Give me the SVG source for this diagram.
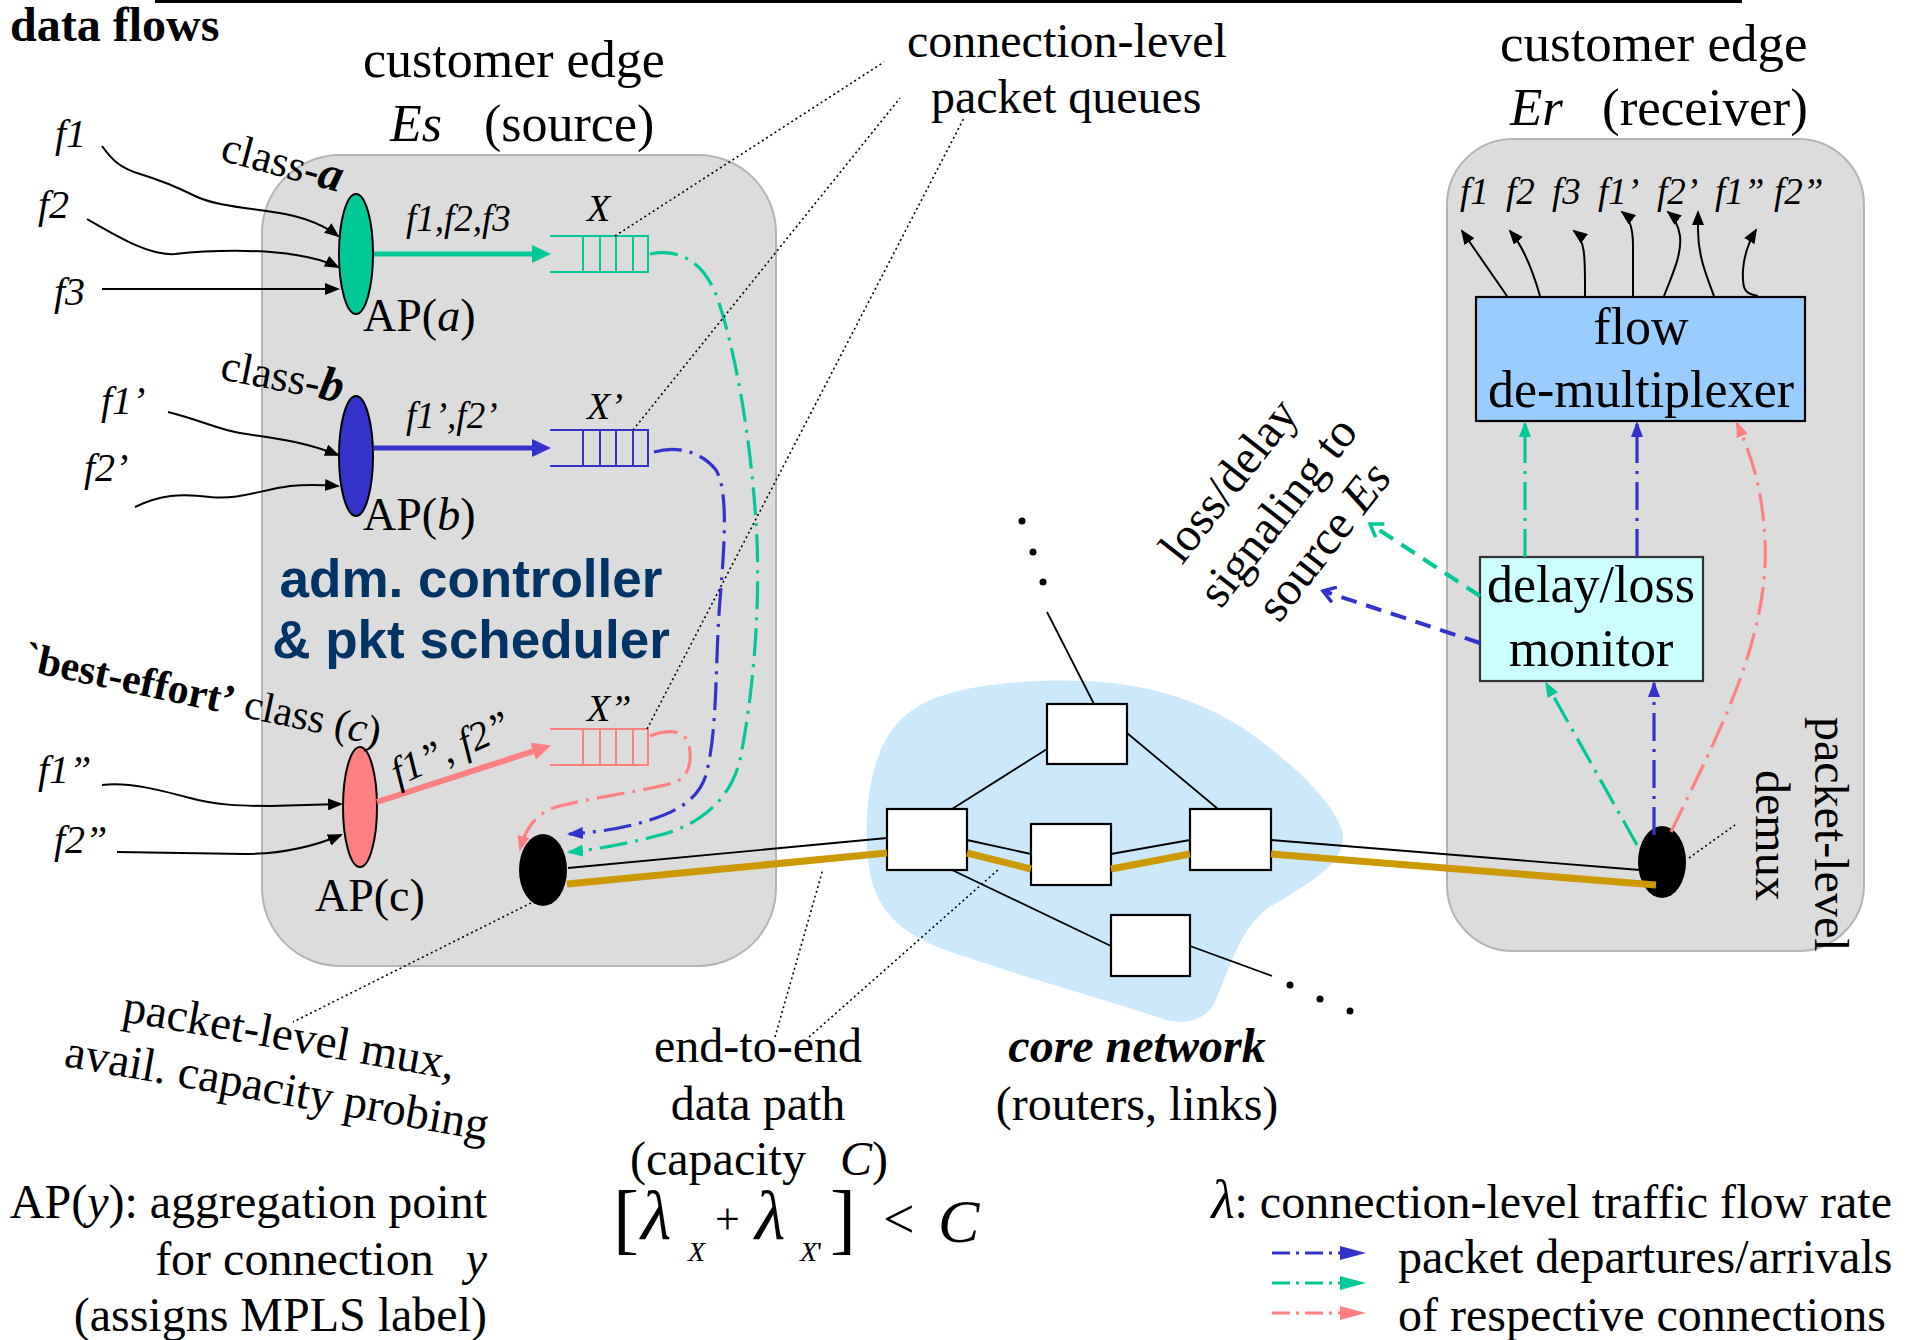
<svg xmlns="http://www.w3.org/2000/svg" width="1910" height="1340" viewBox="0 0 1910 1340">
<defs>
<style>
text { font-family: "Liberation Serif", "Times New Roman", serif; fill: #000; }
.it { font-style: italic; }
.bd { font-weight: bold; }
.sans { font-family: "Liberation Sans", Arial, sans-serif; }
.edge { fill: #dcdcdc; stroke: #b4b4b4; stroke-width: 2; }
.router { fill: #fff; stroke: #000; stroke-width: 2.2; }
.link { stroke: #000; stroke-width: 1.8; fill: none; }
.gold { stroke: #cc9900; stroke-width: 7; fill: none; }
.flow { stroke: #000; stroke-width: 2; fill: none; marker-end: url(#mk-black); }
.dd { fill: none; stroke-width: 3.2; stroke-dasharray: 28 8 3 8; }
.dsh { fill: none; stroke-width: 4; stroke-dasharray: 16 10; }
.cg { stroke: #00c896; }
.cb { stroke: #3333cc; }
.cp { stroke: #ff8080; }
.lead { stroke: #000; stroke-width: 1.6; stroke-dasharray: 2 3; fill: none; }
.q { fill: none; stroke-width: 2; }
</style>
<marker id="mk-black" markerWidth="15" markerHeight="12" refX="13" refY="6" orient="auto" markerUnits="userSpaceOnUse"><path d="M0,0 L15,6 L0,12 z" fill="#000"/></marker>
<marker id="mk-gbig" markerWidth="19" markerHeight="18" refX="1" refY="9" orient="auto" markerUnits="userSpaceOnUse"><path d="M0,0 L19,9 L0,18 z" fill="#00c896"/></marker>
<marker id="mk-bbig" markerWidth="19" markerHeight="18" refX="1" refY="9" orient="auto" markerUnits="userSpaceOnUse"><path d="M0,0 L19,9 L0,18 z" fill="#3333cc"/></marker>
<marker id="mk-pbig" markerWidth="19" markerHeight="18" refX="1" refY="9" orient="auto" markerUnits="userSpaceOnUse"><path d="M0,0 L19,9 L0,18 z" fill="#ff8080"/></marker>
<marker id="mk-g" markerWidth="16" markerHeight="12" refX="14" refY="6" orient="auto" markerUnits="userSpaceOnUse"><path d="M0,0 L16,6 L0,12 z" fill="#00c896"/></marker>
<marker id="mk-b" markerWidth="16" markerHeight="12" refX="14" refY="6" orient="auto" markerUnits="userSpaceOnUse"><path d="M0,0 L16,6 L0,12 z" fill="#3333cc"/></marker>
<marker id="mk-p" markerWidth="16" markerHeight="12" refX="14" refY="6" orient="auto" markerUnits="userSpaceOnUse"><path d="M0,0 L16,6 L0,12 z" fill="#ff8080"/></marker>
<marker id="mk-gopen" markerWidth="16" markerHeight="18" refX="13" refY="9" orient="auto" markerUnits="userSpaceOnUse"><path d="M1,1 L13,9 L1,17" fill="none" stroke="#00c896" stroke-width="3.5"/></marker>
<marker id="mk-bopen" markerWidth="16" markerHeight="18" refX="13" refY="9" orient="auto" markerUnits="userSpaceOnUse"><path d="M1,1 L13,9 L1,17" fill="none" stroke="#3333cc" stroke-width="3.5"/></marker>
<marker id="mk-gleg" markerWidth="26" markerHeight="14" refX="0" refY="7" orient="auto" markerUnits="userSpaceOnUse"><path d="M0,0 L26,7 L0,14 z" fill="#00c896"/></marker>
<marker id="mk-bleg" markerWidth="26" markerHeight="14" refX="0" refY="7" orient="auto" markerUnits="userSpaceOnUse"><path d="M0,0 L26,7 L0,14 z" fill="#3333cc"/></marker>
<marker id="mk-pleg" markerWidth="26" markerHeight="14" refX="0" refY="7" orient="auto" markerUnits="userSpaceOnUse"><path d="M0,0 L26,7 L0,14 z" fill="#ff8080"/></marker>
</defs>

<rect x="0" y="0" width="1910" height="1340" fill="#fff"/>
<rect x="155" y="0" width="1587" height="3" fill="#000"/>

<!-- containers -->
<g id="edge-source"><rect class="edge" x="262" y="155" width="514" height="811" rx="78" ry="78"/></g>
<g id="edge-receiver"><rect class="edge" x="1447" y="139" width="417" height="812" rx="66" ry="66"/></g>
<g id="core-cloud"><path d="M893,729 C915,697 965,684 1040,681 C1120,678 1180,690 1240,726 C1290,760 1338,805 1343,835 C1346,866 1300,888 1268,908 C1240,930 1232,962 1215,1002 C1205,1022 1182,1026 1160,1018 C1100,998 1000,970 940,948 C890,928 872,900 868,860 C864,820 868,760 893,729 Z" fill="#cce9fb"/></g>

<!-- nodes -->
<g id="ap-a"><ellipse cx="356" cy="254" rx="17" ry="60" fill="#00c896" stroke="#000" stroke-width="2"/></g>
<g id="ap-b"><ellipse cx="356" cy="456" rx="17" ry="60" fill="#3333cc" stroke="#000" stroke-width="2"/></g>
<g id="ap-c"><ellipse cx="360" cy="807" rx="17" ry="60" fill="#ff8080" stroke="#000" stroke-width="2"/></g>
<g id="queue-a"><path class="q cg" d="M550,236 H648 V272 H550 M583,236 V272 M600,236 V272 M616,236 V272 M633,236 V272"/></g>
<g id="queue-b"><path class="q cb" d="M550,430 H648 V466 H550 M583,430 V466 M600,430 V466 M616,430 V466 M633,430 V466"/></g>
<g id="queue-c"><path class="q cp" d="M550,729 H648 V765 H550 M583,729 V765 M600,729 V765 M616,729 V765 M633,729 V765"/></g>
<g id="mux"><ellipse cx="543" cy="870" rx="24" ry="36" fill="#000"/></g>
<g id="demux"><ellipse cx="1662" cy="862" rx="24" ry="36" fill="#000"/></g>
<g id="router-top"><rect class="router" x="1047" y="704" width="80" height="60"/></g>
<g id="router-left"><rect class="router" x="887" y="809" width="80" height="61"/></g>
<g id="router-mid"><rect class="router" x="1031" y="824" width="80" height="61"/></g>
<g id="router-right"><rect class="router" x="1190" y="809" width="81" height="61"/></g>
<g id="router-bottom"><rect class="router" x="1111" y="915" width="79" height="61"/></g>
<g id="flow-demux"><rect x="1476" y="297" width="329" height="124" fill="#99ccff" stroke="#000" stroke-width="2.2"/>
<text x="1641" y="344" font-size="52" text-anchor="middle">flow</text>
<text x="1641" y="407" font-size="52" text-anchor="middle">de-multiplexer</text></g>
<g id="monitor"><rect x="1480" y="557" width="223" height="124" fill="#ccffff" stroke="#333" stroke-width="2.2"/>
<text x="1591" y="602" font-size="52" text-anchor="middle">delay/loss</text>
<text x="1591" y="666" font-size="52" text-anchor="middle">monitor</text></g>

<!-- connectors -->
<g id="connectors">
<path class="flow" d="M102,146 C112,160 120,168 140,174 C160,180 175,186 195,196 C215,206 250,208 285,214 C305,218 325,226 338,236"/>
<path class="flow" d="M87,219 C120,238 150,256 175,254 C210,250 260,249 296,255 C315,258 328,262 338,267"/>
<path class="flow" d="M102,289 L338,289"/>
<path class="flow" d="M168,412 C200,420 220,430 240,433 C270,438 300,440 338,455"/>
<path class="flow" d="M135,507 C160,495 180,493 210,497 C240,500 260,490 290,486 C310,484 325,485 338,486"/>
<path class="flow" d="M102,785 C130,782 160,790 190,798 C215,805 240,806 270,806 L341,804"/>
<path class="flow" d="M117,852 L245,854 C280,854 310,848 341,835"/>
<path d="M374,254 L533,254" stroke="#00c896" stroke-width="5" fill="none" marker-end="url(#mk-gbig)"/>
<path d="M374,448 L533,448" stroke="#3333cc" stroke-width="5" fill="none" marker-end="url(#mk-bbig)"/>
<path d="M377,802 L534,751" stroke="#ff8080" stroke-width="6" fill="none" marker-end="url(#mk-pbig)"/>
<path class="dd cg" marker-end="url(#mk-g)" d="M650,254 C680,248 705,262 718,300 C735,350 752,440 757,540 C760,620 752,700 740,760 C730,800 700,825 660,835 C630,843 600,849 569,852"/>
<path class="dd cb" marker-end="url(#mk-b)" d="M654,452 C675,446 700,450 716,470 C728,490 725,540 720,600 C715,660 718,730 706,775 C698,800 676,812 650,820 C625,828 600,832 569,834"/>
<path class="dd cp" marker-end="url(#mk-p)" d="M650,736 C665,730 685,728 689,745 C692,760 690,775 676,782 C650,790 600,796 560,806 C535,812 525,830 520,850"/>
<line class="link" x1="568" y1="868" x2="887" y2="838"/>
<line class="gold" x1="567" y1="884" x2="887" y2="853"/>
<line class="link" x1="967" y1="840" x2="1031" y2="854"/>
<line class="gold" x1="967" y1="853" x2="1031" y2="869"/>
<line class="link" x1="1111" y1="854" x2="1190" y2="840"/>
<line class="gold" x1="1111" y1="869" x2="1190" y2="854"/>
<line class="link" x1="1271" y1="840" x2="1640" y2="870"/>
<line class="gold" x1="1271" y1="854" x2="1656" y2="885"/>
<line class="link" x1="1047" y1="612" x2="1094" y2="704"/>
<line class="link" x1="1047" y1="749" x2="952" y2="809"/>
<line class="link" x1="1127" y1="733" x2="1218" y2="809"/>
<line class="link" x1="952" y1="870" x2="1111" y2="946"/>
<line class="link" x1="1190" y1="946" x2="1272" y2="976"/>
<path class="dd cg" marker-end="url(#mk-g)" d="M1525,557 L1525,423"/>
<path class="dd cb" marker-end="url(#mk-b)" d="M1637,557 L1637,423"/>
<path class="dd cp" marker-end="url(#mk-p)" d="M1671,832 C1715,740 1770,640 1765,540 C1762,480 1748,450 1737,423"/>
<path class="dd cg" marker-end="url(#mk-g)" d="M1637,845 L1546,683"/>
<path class="dd cb" marker-end="url(#mk-b)" d="M1654,835 L1654,683"/>
<path class="dsh cg" marker-end="url(#mk-gopen)" d="M1480,596 L1370,524"/>
<path class="dsh cb" marker-end="url(#mk-bopen)" d="M1480,643 L1323,591"/>
<path class="flow" d="M1507,296 L1462,231"/>
<path class="flow" d="M1540,296 C1532,268 1522,245 1510,231"/>
<path class="flow" d="M1585,296 C1585,260 1586,240 1574,231"/>
<path class="flow" d="M1633,296 L1633,245 C1633,228 1630,218 1622,212"/>
<path class="flow" d="M1664,296 C1672,275 1682,255 1680,236 C1678,224 1673,216 1668,212"/>
<path class="flow" d="M1714,296 C1706,275 1698,255 1698,230 L1698,212"/>
<path class="flow" d="M1758,296 C1745,294 1742,290 1743,270 C1744,255 1750,240 1756,230"/>
<line class="lead" x1="615" y1="236" x2="884" y2="62"/>
<line class="lead" x1="633" y1="430" x2="900" y2="98"/>
<line class="lead" x1="647" y1="729" x2="964" y2="118"/>
<line class="lead" x1="531" y1="903" x2="293" y2="1022"/>
<line class="lead" x1="775" y1="1037" x2="823" y2="869"/>
<line class="lead" x1="809" y1="1037" x2="999" y2="869"/>
<line class="lead" x1="1689" y1="858" x2="1735" y2="825"/>
<path class="cb" d="M1272,1253 L1340,1253" fill="none" stroke-width="3" stroke-dasharray="18 6 3 6" marker-end="url(#mk-bleg)"/>
<path class="cg" d="M1272,1283 L1340,1283" fill="none" stroke-width="3" stroke-dasharray="18 6 3 6" marker-end="url(#mk-gleg)"/>
<path class="cp" d="M1272,1313 L1340,1313" fill="none" stroke-width="3" stroke-dasharray="18 6 3 6" marker-end="url(#mk-pleg)"/>
</g>

<g id="dots" fill="#000">
<circle cx="1022" cy="521" r="3.5"/><circle cx="1033" cy="552" r="3.5"/><circle cx="1043" cy="582" r="3.5"/>
<circle cx="1290" cy="985" r="3.5"/><circle cx="1320" cy="999" r="3.5"/><circle cx="1350" cy="1011" r="3.5"/>
</g>

<g id="labels">
<text x="10" y="41" font-size="48" class="bd">data flows</text>
<text x="363" y="77" font-size="52">customer edge</text>
<text x="390" y="141" font-size="52" class="it">Es</text>
<text x="484" y="141" font-size="52">(source)</text>
<text x="1500" y="61" font-size="53">customer edge</text>
<text x="1510" y="125" font-size="53" class="it">Er</text>
<text x="1602" y="125" font-size="53">(receiver)</text>
<text x="907" y="57" font-size="48">connection-level</text>
<text x="931" y="113" font-size="48">packet queues</text>

<text x="55" y="147" font-size="40" class="it">f1</text>
<text x="38" y="218" font-size="40" class="it">f2</text>
<text x="54" y="305" font-size="40" class="it">f3</text>
<text x="101" y="414" font-size="40" class="it">f1’</text>
<text x="84" y="481" font-size="40" class="it">f2’</text>
<text x="38" y="783" font-size="40" class="it">f1”</text>
<text x="54" y="853" font-size="40" class="it">f2”</text>

<text transform="translate(219,160) rotate(15)" font-size="44">class-<tspan class="bd it" font-size="48">a</tspan></text>
<text transform="translate(219,379) rotate(11)" font-size="44">class-<tspan class="bd it" font-size="48">b</tspan></text>
<text transform="translate(22,670) rotate(12)" font-size="42"><tspan class="bd">`best-effort’</tspan> class (<tspan class="it">c</tspan>)</text>

<text x="363" y="331" font-size="46">AP(<tspan class="it">a</tspan>)</text>
<text x="363" y="530" font-size="46">AP(<tspan class="it">b</tspan>)</text>
<text x="315" y="911" font-size="46">AP(c)</text>

<text x="406" y="231" font-size="37" class="it">f1,f2,f3</text>
<text x="587" y="221" font-size="38" class="it">X</text>
<text x="406" y="428" font-size="37" class="it">f1’,f2’</text>
<text x="587" y="419" font-size="38" class="it">X’</text>
<text x="587" y="721" font-size="38" class="it">X”</text>
<text transform="translate(398,786) rotate(-24)" font-size="40" class="it">f1”, f2”</text>

<text class="sans bd" x="471" y="597" font-size="53" text-anchor="middle" style="fill:#003366">adm. controller</text>
<text class="sans bd" x="471" y="658" font-size="53" text-anchor="middle" style="fill:#003366">&amp; pkt scheduler</text>

<text transform="translate(121,1021) rotate(10)" font-size="47">packet-level mux,</text>
<text transform="translate(63,1066) rotate(10)" font-size="47">avail. capacity probing</text>

<text x="758" y="1062" font-size="48" text-anchor="middle">end-to-end</text>
<text x="758" y="1120" font-size="48" text-anchor="middle">data path</text>
<text x="630" y="1175" font-size="48">(capacity <tspan class="it" dx="22">C</tspan>)</text>

<text x="613" y="1245" font-size="78">[</text>
<text x="641" y="1239" font-size="70" class="it">λ</text>
<text x="688" y="1261" font-size="28" class="it">X</text>
<text x="715" y="1234" font-size="44">+</text>
<text x="755" y="1239" font-size="70" class="it">λ</text>
<text x="800" y="1261" font-size="28"><tspan class="it">X</tspan>'</text>
<text x="830" y="1245" font-size="78">]</text>
<text x="883" y="1238" font-size="56">&lt;</text>
<text x="938" y="1242" font-size="62" class="it">C</text>

<text x="1137" y="1062" font-size="48" text-anchor="middle" class="bd it">core network</text>
<text x="1137" y="1120" font-size="48" text-anchor="middle">(routers, links)</text>

<text x="487" y="1218" font-size="48" text-anchor="end">AP(<tspan class="it">y</tspan>): aggregation point</text>
<text x="487" y="1275" font-size="48" text-anchor="end">for connection <tspan class="it" dx="20">y</tspan></text>
<text x="487" y="1331" font-size="48" text-anchor="end">(assigns MPLS label)</text>

<text x="1892" y="1218" font-size="48" text-anchor="end"><tspan class="it" font-size="54">λ</tspan>: connection-level traffic flow rate</text>
<text x="1398" y="1273" font-size="48">packet departures/arrivals</text>
<text x="1398" y="1331" font-size="48">of respective connections</text>

<text x="1241" y="490" font-size="48" text-anchor="middle" transform="rotate(-52 1241 490)">loss/delay</text>
<text x="1290" y="521" font-size="48" text-anchor="middle" transform="rotate(-52 1290 521)">signaling to</text>
<text x="1336" y="551" font-size="48" text-anchor="middle" transform="rotate(-52 1336 551)">source <tspan class="it">Es</tspan></text>

<text transform="translate(1815,717) rotate(90)" font-size="48">packet-level</text>
<text transform="translate(1756,770) rotate(90)" font-size="48">demux</text>

<text x="1460" y="204" font-size="37" class="it">f1</text>
<text x="1506" y="204" font-size="37" class="it">f2</text>
<text x="1552" y="204" font-size="37" class="it">f3</text>
<text x="1598" y="204" font-size="37" class="it">f1’</text>
<text x="1657" y="204" font-size="37" class="it">f2’</text>
<text x="1715" y="204" font-size="37" class="it">f1”</text>
<text x="1774" y="204" font-size="37" class="it">f2”</text>
</g>
</svg>
